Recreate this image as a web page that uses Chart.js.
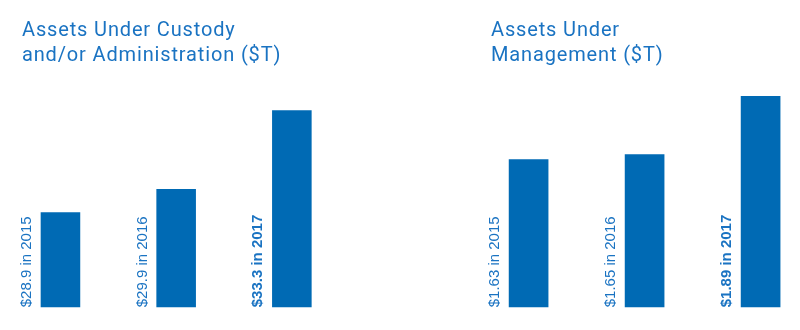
<!DOCTYPE html>
<html>
<head>
<meta charset="utf-8">
<script src="https://cdn.jsdelivr.net/npm/chart.js@4"></script>
<style>
  html, body { margin: 0; padding: 0; background: #fff; }
  body { width: 800px; height: 330px; position: relative; overflow: hidden; }
  .panel { position: absolute; top: 0; height: 330px; }
  .panel h2 {
    position: absolute; margin: 0; top: 17px;
    font: 400 20px Roboto, sans-serif; line-height: 25px; letter-spacing: 0.85px;
    color: #1a73c2; white-space: nowrap; z-index: 2;
  }
</style>
</head>
<body>
<div class="panel" style="left:0;width:400px">
  <h2 style="left:22px">Assets Under Custody<br>and/or Administration ($T)</h2>
  <canvas id="custody"></canvas>
</div>
<div class="panel" style="left:400px;width:420px">
  <h2 style="left:91px">Assets Under<br>Management ($T)</h2>
  <canvas id="management"></canvas>
</div>
<script>
// ===== ASSETS CHARTS =====

const YEARS = ['2015', '2016', '2017'];
const CUSTODY = [28.9, 29.9, 33.3];       // $T under custody and/or administration
const MANAGEMENT = [1.63, 1.65, 1.89];    // $T under management

const BAR_BLUE = '#006ab4';
const TEXT_BLUE = '#1a73c2';

// Rotated "$x in year" label beside each bar, latest year in bold
const sideLabels = {
  id: 'sideLabels',
  afterDraw(chart) {
    const ctx = chart.ctx;
    const meta = chart.getDatasetMeta(0);
    const values = chart.data.datasets[0].data;
    const bottom = chart.chartArea.bottom;
    meta.data.forEach((bar, i) => {
      const { x, width } = bar.getProps(['x', 'width'], true);
      const last = i === values.length - 1;
      ctx.save();
      ctx.translate(x - width / 2 - 14, bottom);
      ctx.rotate(-Math.PI / 2);
      ctx.font = (last ? 'bold ' : '') + '15px "Liberation Sans", Arial, sans-serif';
      ctx.fillStyle = TEXT_BLUE;
      ctx.textAlign = 'left';
      ctx.textBaseline = 'middle';
      ctx.fillText('$' + values[i] + ' in ' + chart.data.labels[i], 0, 0);
      ctx.restore();
    });
  }
};

function makeChart(id, values, yMin, yMax, padLeft, padRight) {
  return new Chart(document.getElementById(id), {
    type: 'bar',
    data: {
      labels: YEARS,
      datasets: [{
        data: values,
        backgroundColor: BAR_BLUE,
        borderWidth: 0,
        categoryPercentage: 1,
        barPercentage: 0.342
      }]
    },
    options: {
      responsive: false,
      animation: false,
      events: [],
      layout: { padding: { left: padLeft, right: padRight, top: 80, bottom: 22.7 } },
      plugins: { legend: { display: false }, tooltip: { enabled: false } },
      scales: {
        x: { display: false },
        y: { display: false, min: yMin, max: yMax }
      }
    },
    plugins: [sideLabels]
  });
}

document.getElementById('custody').width = 400;
document.getElementById('custody').height = 330;
document.getElementById('management').width = 420;
document.getElementById('management').height = 330;

makeChart('custody', CUSTODY, 24.8, 34.6, 2.6, 50.3);
makeChart('management', MANAGEMENT, 1.02, 1.956, 70.6, 1.4);
</script>
</body>
</html>
